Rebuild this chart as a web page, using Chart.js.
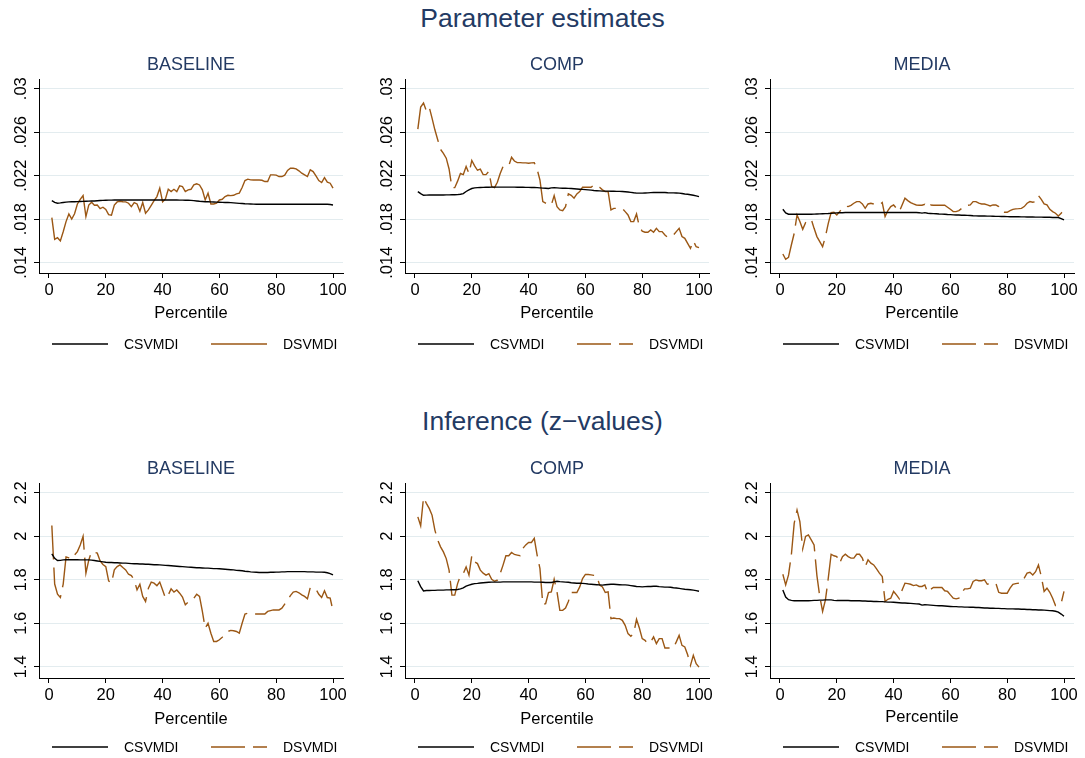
<!DOCTYPE html>
<html>
<head>
<meta charset="utf-8">
<script src="https://cdn.jsdelivr.net/npm/chart.js@4.4.1/dist/chart.umd.min.js"></script>
<style>
  html, body { margin: 0; padding: 0; background: #fff; }
  body { width: 1085px; height: 758px; position: relative; overflow: hidden;
         font-family: "Liberation Sans", Arial, sans-serif; }
  .main-title { position: absolute; left: 0; width: 1085px; text-align: center;
                font-size: 26.5px; line-height: 26px; color: #233a63; }
  canvas { position: absolute; }
</style>
</head>
<body>
<div class="main-title" style="top:5px">Parameter estimates</div>
<div class="main-title" style="top:408px">Inference (z&minus;values)</div>
<canvas id="p1" width="351" height="320" style="left:0px;top:40px"></canvas>
<canvas id="p2" width="351" height="320" style="left:366px;top:40px"></canvas>
<canvas id="p3" width="351" height="320" style="left:731px;top:40px"></canvas>
<canvas id="p4" width="351" height="314" style="left:0px;top:444px"></canvas>
<canvas id="p5" width="351" height="314" style="left:366px;top:444px"></canvas>
<canvas id="p6" width="351" height="314" style="left:731px;top:444px"></canvas>
<script>
// Percentiles 1..100
const percentiles = [1,2,3,4,5,6,7,8,9,10,11,12,13,14,15,16,17,18,19,20,
  21,22,23,24,25,26,27,28,29,30,31,32,33,34,35,36,37,38,39,40,
  41,42,43,44,45,46,47,48,49,50,51,52,53,54,55,56,57,58,59,60,
  61,62,63,64,65,66,67,68,69,70,71,72,73,74,75,76,77,78,79,80,
  81,82,83,84,85,86,87,88,89,90,91,92,93,94,95,96,97,98,99,100];

const panelNames = ['BASELINE', 'COMP', 'MEDIA'];
const seriesNames = ['CSVMDI', 'DSVMDI'];

// Axis ticks
const xTicks = [0, 20, 40, 60, 80, 100];
const paramTicks = [0.014, 0.018, 0.022, 0.026, 0.03];
const paramTickLabels = ['.014', '.018', '.022', '.026', '.03'];
const zTicks = [1.4, 1.6, 1.8, 2, 2.2];
const zTickLabels = ['1.4', '1.6', '1.8', '2', '2.2'];

// ---- Parameter estimates ----
const baseCS = [0.01971,0.01955,0.01947,0.01950,0.01954,0.01957,0.01959,0.01960,0.01961,0.01962,
  0.01963,0.01964,0.01965,0.01966,0.01967,0.01968,0.01970,0.01972,0.01973,0.01974,
  0.01975,0.01975,0.01976,0.01976,0.01976,0.01977,0.01977,0.01977,0.01977,0.01977,
  0.01977,0.01977,0.01977,0.01977,0.01977,0.01977,0.01977,0.01977,0.01977,0.01977,
  0.01977,0.01977,0.01976,0.01976,0.01976,0.01975,0.01975,0.01974,0.01974,0.01973,
  0.01971,0.01968,0.01965,0.01963,0.01961,0.01960,0.01959,0.01958,0.01957,0.01956,
  0.01955,0.01954,0.01953,0.01952,0.01950,0.01948,0.01946,0.01944,0.01942,0.01941,
  0.01940,0.01939,0.01938,0.01938,0.01937,0.01937,0.01937,0.01937,0.01938,0.01938,
  0.01938,0.01938,0.01938,0.01938,0.01938,0.01938,0.01938,0.01938,0.01938,0.01938,
  0.01938,0.01938,0.01938,0.01938,0.01938,0.01938,0.01938,0.01937,0.01935,0.01931];
const baseDS = [0.01815,0.01615,0.01630,0.01600,0.01685,0.01778,0.01848,0.01802,0.01850,0.01940,
  0.01983,0.02017,0.01824,0.01930,0.01956,0.01928,0.01930,0.01897,0.01910,0.01890,
  0.01842,0.01836,0.01930,0.01959,0.01965,0.01960,0.01959,0.01947,0.01916,0.01953,
  0.01940,0.01873,0.01953,0.01855,0.01885,0.01928,0.01971,0.02008,0.02085,0.01960,
  0.01987,0.02075,0.02054,0.02075,0.02054,0.02106,0.02100,0.02054,0.02070,0.02075,
  0.02115,0.02125,0.02115,0.02070,0.01977,0.02039,0.01940,0.01940,0.01947,0.01977,
  0.01983,0.02008,0.02020,0.02017,0.02020,0.02033,0.02040,0.02091,0.02155,0.02168,
  0.02162,0.02160,0.02160,0.02160,0.02158,0.02146,0.02146,0.02208,0.02208,0.02205,
  0.02192,0.02192,0.02205,0.02248,0.02269,0.02269,0.02263,0.02245,0.02223,0.02208,
  0.02192,0.02254,0.02238,0.02198,0.02155,0.02137,0.02183,0.02140,0.02131,0.02085];

const compCS = [0.02054,0.02035,0.02020,0.02021,0.02022,0.02022,0.02022,0.02022,0.02022,0.02023,
  0.02024,0.02024,0.02025,0.02025,0.02026,0.02030,0.02035,0.02055,0.02070,0.02082,
  0.02088,0.02090,0.02092,0.02093,0.02094,0.02094,0.02095,0.02095,0.02095,0.02095,
  0.02095,0.02095,0.02095,0.02095,0.02095,0.02094,0.02094,0.02094,0.02093,0.02093,
  0.02092,0.02091,0.02090,0.02088,0.02086,0.02085,0.02083,0.02088,0.02090,0.02088,
  0.02086,0.02085,0.02084,0.02083,0.02082,0.02080,0.02078,0.02076,0.02074,0.02072,
  0.02070,0.02067,0.02064,0.02062,0.02060,0.02058,0.02058,0.02058,0.02057,0.02057,
  0.02056,0.02056,0.02055,0.02053,0.02050,0.02047,0.02043,0.02040,0.02040,0.02040,
  0.02041,0.02042,0.02044,0.02045,0.02046,0.02046,0.02045,0.02045,0.02043,0.02042,
  0.02042,0.02041,0.02040,0.02036,0.02032,0.02029,0.02025,0.02020,0.02014,0.02008];
const compDS = [0.02628,0.02831,0.02868,0.02797,0.02831,0.02730,0.02622,0.02530,0.02442,0.02405,
  0.02361,0.02262,0.02090,0.02090,0.02150,0.02220,0.02210,0.02285,0.02220,0.02340,
  0.02290,0.02250,0.02260,0.02210,0.02210,0.02240,0.02100,0.02090,0.02140,0.02220,
  0.02285,0.02285,0.02290,0.02370,0.02335,0.02320,0.02320,0.02318,0.02318,0.02315,
  0.02318,0.02320,0.02260,0.02160,0.01962,0.01947,0.01931,0.01931,0.02017,0.01916,
  0.01885,0.01879,0.01916,0.02033,0.02020,0.01993,0.02033,0.02054,0.02094,0.02094,
  0.02094,0.02094,0.02115,0.02115,0.02094,0.02070,0.02054,0.02054,0.01885,0.01900,
  0.01900,0.01900,0.01900,0.01870,0.01839,0.01778,0.01778,0.01848,0.01732,0.01690,
  0.01680,0.01680,0.01701,0.01680,0.01716,0.01686,0.01686,0.01655,0.01633,0.01640,
  0.01655,0.01686,0.01716,0.01640,0.01624,0.01578,0.01532,0.01600,0.01547,0.01538];

const mediaCS = [0.01891,0.01858,0.01846,0.01845,0.01845,0.01845,0.01845,0.01845,0.01845,0.01846,
  0.01846,0.01847,0.01848,0.01849,0.01850,0.01851,0.01852,0.01854,0.01856,0.01858,
  0.01859,0.01860,0.01861,0.01862,0.01862,0.01862,0.01862,0.01862,0.01862,0.01862,
  0.01862,0.01862,0.01862,0.01862,0.01862,0.01862,0.01862,0.01862,0.01862,0.01862,
  0.01862,0.01862,0.01862,0.01862,0.01862,0.01862,0.01861,0.01861,0.01860,0.01856,
  0.01860,0.01855,0.01853,0.01851,0.01850,0.01848,0.01847,0.01845,0.01843,0.01842,
  0.01840,0.01839,0.01838,0.01837,0.01836,0.01835,0.01834,0.01832,0.01831,0.01830,
  0.01830,0.01829,0.01828,0.01828,0.01827,0.01826,0.01826,0.01825,0.01825,0.01824,
  0.01823,0.01823,0.01822,0.01822,0.01821,0.01821,0.01820,0.01820,0.01820,0.01819,
  0.01819,0.01819,0.01818,0.01818,0.01818,0.01816,0.01816,0.01815,0.01806,0.01793];
const mediaDS = [0.01480,0.01431,0.01449,0.01563,0.01670,0.01839,0.01778,0.01707,0.01768,0.01790,
  0.01799,0.01716,0.01640,0.01593,0.01547,0.01640,0.01762,0.01860,0.01864,0.01839,
  0.01870,0.01900,0.01922,0.01916,0.01928,0.01947,0.01962,0.01962,0.01940,0.01900,
  0.01940,0.01947,0.01940,0.01931,0.01931,0.01953,0.01824,0.01880,0.01916,0.01931,
  0.01900,0.01870,0.01931,0.01993,0.01971,0.01953,0.01940,0.01931,0.01928,0.01928,
  0.01937,0.01907,0.01931,0.01928,0.01928,0.01928,0.01928,0.01928,0.01910,0.01891,
  0.01870,0.01870,0.01879,0.01900,0.01928,0.01928,0.01931,0.01962,0.01962,0.01947,
  0.01940,0.01940,0.01931,0.01922,0.01931,0.01931,0.01916,0.01870,0.01864,0.01864,
  0.01879,0.01890,0.01895,0.01897,0.01900,0.01916,0.01947,0.01962,0.01956,0.01962,
  0.02017,0.01983,0.01940,0.01931,0.01891,0.01870,0.01855,0.01830,0.01855,0.01891];

// ---- Inference (z-values) ----
const baseZCS = [1.919,1.898,1.888,1.889,1.891,1.892,1.892,1.892,1.892,1.892,
  1.891,1.891,1.891,1.891,1.890,1.888,1.886,1.884,1.882,1.880,
  1.879,1.879,1.878,1.878,1.877,1.876,1.876,1.875,1.874,1.873,
  1.873,1.872,1.872,1.871,1.871,1.870,1.869,1.869,1.868,1.867,
  1.866,1.865,1.864,1.863,1.862,1.861,1.860,1.859,1.858,1.857,
  1.856,1.855,1.855,1.854,1.853,1.853,1.852,1.851,1.851,1.850,
  1.849,1.848,1.847,1.846,1.845,1.843,1.842,1.841,1.839,1.838,
  1.836,1.835,1.834,1.833,1.833,1.833,1.833,1.834,1.834,1.835,
  1.835,1.836,1.836,1.837,1.837,1.837,1.837,1.837,1.837,1.837,
  1.836,1.836,1.836,1.835,1.835,1.835,1.834,1.832,1.828,1.822];
const baseZDS = [2.049,1.780,1.733,1.718,1.780,1.905,1.900,1.895,1.914,1.929,
  1.960,2.000,1.830,1.890,1.929,1.926,1.922,1.886,1.870,1.860,
  1.795,1.784,1.845,1.860,1.868,1.856,1.845,1.825,1.819,1.799,
  1.753,1.779,1.723,1.700,1.761,1.789,1.784,1.772,1.789,1.753,
  1.715,1.730,1.758,1.743,1.753,1.738,1.720,1.685,1.697,1.700,
  1.715,1.733,1.723,1.654,1.577,1.600,1.554,1.516,1.516,1.524,
  1.535,1.547,1.562,1.567,1.565,1.562,1.554,1.600,1.642,1.646,
  1.642,1.642,1.642,1.642,1.642,1.642,1.654,1.658,1.661,1.661,
  1.661,1.669,1.688,1.707,1.727,1.743,1.746,1.740,1.730,1.723,
  1.712,1.764,1.761,1.756,1.733,1.718,1.749,1.718,1.715,1.657];

const compZCS = [1.795,1.768,1.748,1.750,1.750,1.751,1.751,1.752,1.752,1.752,
  1.753,1.753,1.754,1.754,1.755,1.758,1.762,1.770,1.775,1.779,
  1.782,1.783,1.785,1.786,1.787,1.788,1.789,1.789,1.789,1.789,
  1.790,1.790,1.790,1.790,1.790,1.790,1.790,1.790,1.790,1.790,
  1.790,1.789,1.789,1.789,1.788,1.787,1.787,1.787,1.790,1.793,
  1.791,1.790,1.789,1.788,1.786,1.785,1.784,1.784,1.783,1.782,
  1.780,1.779,1.778,1.777,1.776,1.775,1.777,1.778,1.779,1.779,
  1.778,1.777,1.776,1.776,1.775,1.773,1.771,1.769,1.768,1.767,
  1.768,1.769,1.769,1.770,1.770,1.768,1.767,1.766,1.766,1.765,
  1.763,1.762,1.760,1.758,1.756,1.755,1.754,1.752,1.750,1.747];
const compZDS = [2.089,2.048,2.178,2.151,2.128,2.097,2.028,1.982,1.951,1.928,
  1.897,1.844,1.729,1.729,1.782,1.818,1.828,1.859,1.821,1.910,
  1.882,1.874,1.844,1.830,1.821,1.828,1.802,1.793,1.798,1.828,
  1.867,1.910,1.910,1.925,1.916,1.913,1.910,1.944,1.960,1.971,
  1.971,1.990,1.913,1.851,1.686,1.690,1.741,1.744,1.802,1.744,
  1.659,1.659,1.670,1.700,1.741,1.741,1.741,1.767,1.805,1.824,
  1.824,1.822,1.820,1.818,1.775,1.767,1.741,1.744,1.621,1.624,
  1.621,1.621,1.613,1.590,1.552,1.540,1.552,1.618,1.578,1.529,
  1.521,1.506,1.514,1.537,1.506,1.529,1.529,1.486,1.486,1.486,
  1.486,1.514,1.544,1.498,1.491,1.455,1.406,1.452,1.414,1.398];

const mediaZCS = [1.753,1.720,1.708,1.705,1.703,1.703,1.703,1.703,1.703,1.703,
  1.704,1.705,1.705,1.706,1.706,1.707,1.707,1.707,1.705,1.704,
  1.704,1.704,1.704,1.704,1.703,1.703,1.703,1.703,1.702,1.702,
  1.701,1.701,1.700,1.700,1.699,1.699,1.698,1.697,1.697,1.696,
  1.695,1.694,1.693,1.693,1.692,1.691,1.690,1.689,1.688,1.683,
  1.685,1.684,1.683,1.682,1.681,1.680,1.680,1.679,1.678,1.677,
  1.676,1.676,1.675,1.675,1.674,1.674,1.673,1.673,1.672,1.672,
  1.671,1.670,1.670,1.669,1.669,1.668,1.668,1.667,1.667,1.666,
  1.666,1.666,1.665,1.665,1.664,1.664,1.663,1.663,1.662,1.662,
  1.661,1.661,1.660,1.659,1.658,1.657,1.655,1.651,1.642,1.632];
const mediaZDS = [1.825,1.776,1.822,1.914,2.059,2.120,2.067,1.942,1.999,2.006,
  1.983,1.960,1.819,1.723,1.654,1.707,1.807,1.917,1.910,1.906,
  1.876,1.906,1.917,1.906,1.899,1.899,1.917,1.917,1.899,1.860,
  1.891,1.876,1.868,1.850,1.830,1.815,1.700,1.710,1.715,1.746,
  1.730,1.712,1.753,1.784,1.782,1.779,1.773,1.776,1.769,1.769,
  1.776,1.742,1.755,1.764,1.764,1.764,1.764,1.749,1.746,1.730,
  1.715,1.712,1.715,1.740,1.758,1.758,1.761,1.792,1.799,1.795,
  1.795,1.799,1.779,1.782,1.784,1.784,1.742,1.738,1.738,1.738,
  1.761,1.779,1.782,1.784,1.784,1.807,1.830,1.834,1.822,1.837,
  1.868,1.815,1.746,1.761,1.742,1.715,1.681,1.681,1.692,1.746];

const CS_COLOR = '#000000';
const DS_COLOR = '#9b5714';
const TITLE_COLOR = '#233a63';
const GRID_COLOR = '#e3ecef';
const FONT = '"Liberation Sans", Arial, Helvetica, sans-serif';

// Panel title, rotated y tick labels, x-axis title and the key below each panel
const panelDecor = {
  id: 'panelDecor',
  afterDraw(chart, args, opts) {
    const { ctx, chartArea: a, scales } = chart;
    const cx = (a.left + a.right) / 2;
    ctx.save();
    ctx.textBaseline = 'alphabetic';

    ctx.font = '18px ' + FONT;
    ctx.fillStyle = TITLE_COLOR;
    ctx.textAlign = 'center';
    ctx.fillText(opts.title, cx, a.top - 9);

    ctx.font = '16.5px ' + FONT;
    ctx.fillStyle = '#000';
    opts.yTicks.forEach((v, i) => {
      const py = scales.y.getPixelForValue(v);
      ctx.save();
      ctx.translate(a.left - 13, py);
      ctx.rotate(-Math.PI / 2);
      ctx.textAlign = 'center';
      ctx.fillText(opts.yLabels[i], 0, 0);
      ctx.restore();
    });

    ctx.textAlign = 'center';
    ctx.fillText('Percentile', cx, a.bottom + opts.xTitleDy);

    // key
    const ly = a.bottom + opts.legendDy;
    const keys = [{ x0: 13, tx: 85 }, { x0: 172, tx: 244 }];
    chart.data.datasets.forEach((ds, i) => {
      const k = keys[i];
      ctx.save();
      ctx.strokeStyle = ds.borderColor;
      ctx.lineWidth = ds.borderWidth;
      ctx.setLineDash(ds.borderDash || []);
      ctx.beginPath();
      ctx.moveTo(a.left + k.x0, ly);
      ctx.lineTo(a.left + k.x0 + 56, ly);
      ctx.stroke();
      ctx.restore();
      ctx.font = '14px ' + FONT;
      ctx.fillStyle = '#000';
      ctx.textAlign = 'left';
      ctx.fillText(ds.label, a.left + k.tx, ly + 5);
    });
    ctx.restore();
  }
};

function makePanel(id, title, cs, ds, dashed, yTicks, yLabels, yMin, yMax, xHeight, legendDy, xTitleDy) {
  new Chart(document.getElementById(id), {
    type: 'line',
    data: {
      labels: percentiles,
      datasets: [
        { label: seriesNames[0], data: cs, borderColor: CS_COLOR, borderWidth: 1.4,
          pointRadius: 0, tension: 0, fill: false },
        { label: seriesNames[1], data: ds, borderColor: DS_COLOR, borderWidth: 1.4,
          borderDash: dashed ? [34, 8] : [], pointRadius: 0, tension: 0, fill: false }
      ]
    },
    options: {
      responsive: false,
      animation: false,
      devicePixelRatio: 1,
      layout: { padding: { top: 39, right: 8, bottom: 0, left: 0 } },
      plugins: {
        legend: { display: false },
        tooltip: { enabled: false },
        panelDecor: { title, yTicks, yLabels, legendDy, xTitleDy }
      },
      scales: {
        x: {
          type: 'linear', min: -3.52, max: 103.52,
          afterBuildTicks: s => { s.ticks = xTicks.map(v => ({ value: v })); },
          afterFit: s => { s.height = xHeight; },
          grid: { drawOnChartArea: false, drawTicks: true, tickLength: 5, tickColor: '#000' },
          border: { display: true, color: '#000', width: 1 },
          ticks: { color: '#000', font: { family: FONT, size: 16.5 }, padding: 2.5,
                   maxRotation: 0, autoSkip: false, callback: v => String(v) }
        },
        y: {
          type: 'linear', min: yMin, max: yMax,
          afterBuildTicks: s => { s.ticks = yTicks.map(v => ({ value: v })); },
          afterFit: s => { s.width = 39; },
          grid: { color: GRID_COLOR, lineWidth: 1, drawTicks: true, tickLength: 5, tickColor: '#000' },
          border: { display: true, color: '#000', width: 1 },
          ticks: { display: false }
        }
      }
    },
    plugins: [panelDecor]
  });
}

const pMin = 0.013053, pMax = 0.030892;
const zMin = 1.348, zMax = 2.2446;

makePanel('p1', panelNames[0], baseCS, baseDS, false, paramTicks, paramTickLabels, pMin, pMax, 87, 71, 45);
makePanel('p2', panelNames[1], compCS, compDS, true, paramTicks, paramTickLabels, pMin, pMax, 87, 71, 45);
makePanel('p3', panelNames[2], mediaCS, mediaDS, true, paramTicks, paramTickLabels, pMin, pMax, 87, 71, 45);
makePanel('p4', panelNames[0], baseZCS, baseZDS, true, zTicks, zTickLabels, zMin, zMax, 80, 69, 46);
makePanel('p5', panelNames[1], compZCS, compZDS, true, zTicks, zTickLabels, zMin, zMax, 80, 69, 46);
makePanel('p6', panelNames[2], mediaZCS, mediaZDS, true, zTicks, zTickLabels, zMin, zMax, 80, 69, 44);
</script>
</body>
</html>
